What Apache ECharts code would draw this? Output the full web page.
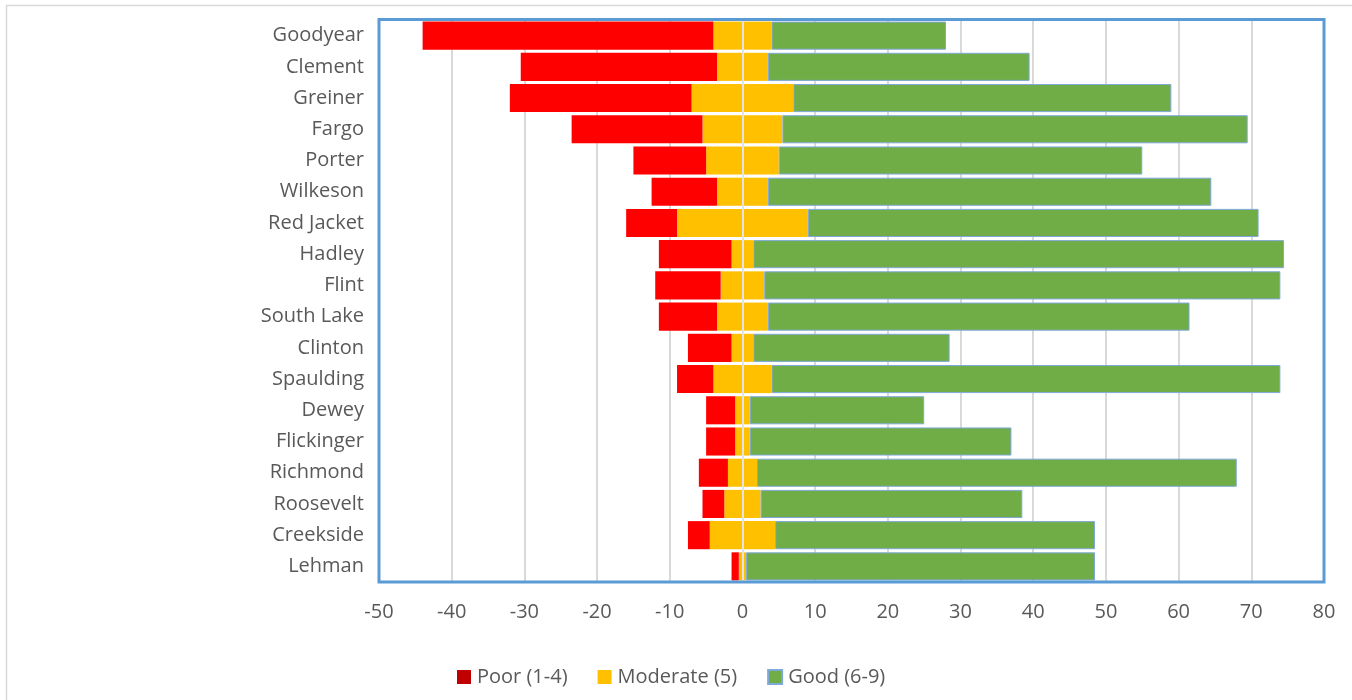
<!DOCTYPE html>
<html>
<head>
<meta charset="utf-8">
<script src="https://cdn.jsdelivr.net/npm/echarts@6/dist/echarts.min.js"></script>
<style>
  html, body { margin: 0; padding: 0; background: #ffffff; }
  #chart { width: 1352px; height: 700px; }
</style>
</head>
<body>
<div id="chart"></div>
<script>
// Schools, top to bottom
const categories = ['Goodyear', 'Clement', 'Greiner', 'Fargo', 'Porter', 'Wilkeson', 'Red Jacket',
  'Hadley', 'Flint', 'South Lake', 'Clinton', 'Spaulding', 'Dewey', 'Flickinger', 'Richmond',
  'Roosevelt', 'Creekside', 'Lehman'];

// Share of responses per rating band
const poor     = [40, 27, 25, 18, 10, 9, 7, 10, 9, 8, 6, 5, 4, 4, 4, 3, 3, 1];
const moderate = [8, 7, 14, 11, 10, 7, 18, 3, 6, 7, 3, 8, 2, 2, 4, 5, 9, 1];
const good     = [24, 36, 52, 64, 50, 61, 62, 73, 71, 58, 27, 70, 24, 36, 66, 36, 44, 48];

const xTicks = { min: -50, max: 80, interval: 10 };

const FONT = '"Open Sans", "Noto Sans", sans-serif';
const TEXT = '#595959';

const chart = echarts.init(document.getElementById('chart'), null, { renderer: 'canvas' });

// Moderate is split around zero; poor extends left of it, good extends right.
chart.setOption({
  animation: false,
  textStyle: { fontFamily: FONT },
  graphic: [
    {
      type: 'rect',
      shape: { x: 6.5, y: 5.5, width: 1360, height: 720 },
      style: { fill: 'none', stroke: '#d9d9d9', lineWidth: 1.5 },
      silent: true
    },
    {
      // plot-area frame drawn above the bars
      type: 'rect', z: 100,
      shape: { x: 379, y: 19.5, width: 945, height: 562.5 },
      style: { fill: 'none', stroke: '#5b9bd5', lineWidth: 3 },
      silent: true
    }
  ],
  grid: {
    left: 379, right: 28, top: 20, bottom: 118
  },
  legend: {
    data: [
      { name: 'Poor (1-4)', itemStyle: { color: '#c00000' } },
      { name: 'Moderate (5)' },
      { name: 'Good (6-9)' }
    ],
    left: 452, top: 662,
    itemWidth: 14, itemHeight: 14, itemGap: 30,
    icon: 'rect',
    textStyle: { fontFamily: FONT, fontSize: 20, color: TEXT, padding: [0, 0, 0, 1] }
  },
  xAxis: {
    type: 'value',
    min: xTicks.min, max: xTicks.max, interval: xTicks.interval,
    axisLine: { show: false },
    axisTick: { show: false },
    splitLine: { lineStyle: { color: '#d9d9d9', width: 2 } },
    axisLabel: { fontFamily: FONT, fontSize: 20, color: TEXT, margin: 20 }
  },
  yAxis: {
    type: 'category',
    data: categories,
    inverse: true,
    axisLine: { show: false },
    axisTick: { show: false },
    axisLabel: { fontFamily: FONT, fontSize: 20, color: TEXT, margin: 15 }
  },
  series: [
    {
      name: 'Moderate (5)', type: 'bar', stack: 'r',
      barCategoryGap: '10%',
      itemStyle: { color: '#ffc000' },
      data: moderate.map(v => -v / 2)
    },
    {
      name: 'Poor (1-4)', type: 'bar', stack: 'r',
      itemStyle: { color: '#c00000' },
      data: poor.map(v => ({ value: -v, itemStyle: { color: '#ff0000' } }))
    },
    {
      name: 'Moderate (5)', type: 'bar', stack: 'r',
      itemStyle: { color: '#ffc000' },
      data: moderate.map(v => v / 2),
      markLine: {
        silent: true, symbol: 'none', label: { show: false },
        lineStyle: { color: '#e3e3e3', width: 2, type: 'solid' },
        data: [{ xAxis: 0 }]
      }
    },
    {
      name: 'Good (6-9)', type: 'bar', stack: 'r',
      itemStyle: { color: '#70ad47', borderColor: '#7fa9d9', borderWidth: 1 },
      data: good
    }
  ]
});
</script>
</body>
</html>
